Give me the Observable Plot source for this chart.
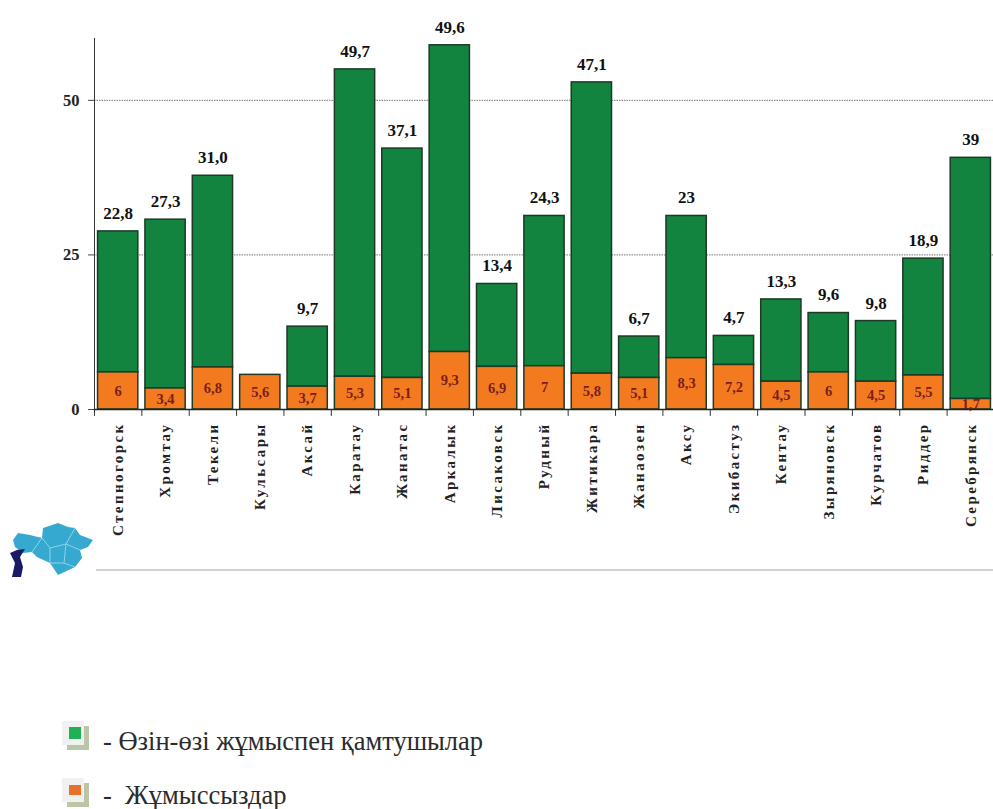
<!DOCTYPE html>
<html>
<head>
<meta charset="utf-8">
<script src="https://cdn.jsdelivr.net/npm/d3@7"></script>
<script src="https://cdn.jsdelivr.net/npm/@observablehq/plot@0.6"></script>
<style>
html,body{margin:0;padding:0;background:#fff;overflow:hidden}
body{position:relative;width:993px;height:809px;font-family:"Liberation Serif",serif}
#chart svg{display:block;background:#fff}
g[aria-label="x-axis tick label"] text{letter-spacing:2.4px}
.rule{position:absolute;left:96px;top:569px;width:897px;height:2px;background:#d2d2d2}
.logo{position:absolute;left:8px;top:518px}
.sw{position:absolute;left:62px;width:22px;height:24px;background:#f1f1f1;box-shadow:5px 5px 0 #bcc5a6}
.sw i{position:absolute;left:7px;width:12px;display:block}
.lt{position:absolute;left:103px;font-family:"Liberation Serif",serif;font-size:26.5px;color:#2b2b2b;white-space:pre;line-height:24px}
</style>
</head>
<body>
<div id="chart"></div>
<div class="rule"></div>
<svg class="logo" width="90" height="60" viewBox="0 0 90 60">
  <path d="M5 22 L10 15 L22 17 L34 20 L35 10 L50 5 L60 9 L67 10 L72 17 L85 22 L80 29 L72 32 L74 40 L67 49 L50 57 L42 45 L29 39 L24 34 L15 35 L7 29 Z" fill="#35a9cf"/>
  <path d="M34 20 L42 30 L58 26 L67 10 M42 30 L42 45 M58 26 L72 32 M58 26 L56 45 L42 45 M24 34 L34 20 M56 45 L67 49" fill="none" stroke="#8fd3e8" stroke-width="1"/>
  <path d="M2 35 L9 32 L17 31 L12 39 L15 49 L13 59 L4 59 L7 45 Z" fill="#1a1a66"/>
</svg>
<div class="sw" style="top:721px"><i style="background:#1eb254;top:6px;height:12px"></i></div>
<div class="lt" style="top:729px">- Өзін-өзі жұмыспен қамтушылар</div>
<div class="sw" style="top:778px"><i style="background:#e8702a;top:7px;height:10px"></i></div>
<div class="lt" style="top:783px">-  Жұмыссыздар</div>
<script>
const cities = ["Степногорск","Хромтау","Текели","Кульсары","Аксай","Каратау","Жанатас","Аркалык","Лисаковск","Рудный","Житикара","Жанаозен","Аксу","Экибастуз","Кентау","Зыряновск","Курчатов","Риддер","Серебрянск"];
const unemployed = [6,3.4,6.8,5.6,3.7,5.3,5.1,9.3,6.9,7,5.8,5.1,8.3,7.2,4.5,6,4.5,5.5,1.7];
const selfEmployed = [22.8,27.3,31.0,0,9.7,49.7,37.1,49.6,13.4,24.3,47.1,6.7,23,4.7,13.3,9.6,9.8,18.9,39];
const unemployedLabels = ["6","3,4","6,8","5,6","3,7","5,3","5,1","9,3","6,9","7","5,8","5,1","8,3","7,2","4,5","6","4,5","5,5","1,7"];
const selfEmployedLabels = ["22,8","27,3","31,0","","9,7","49,7","37,1","49,6","13,4","24,3","47,1","6,7","23","4,7","13,3","9,6","9,8","18,9","39"];
const yTicks = [0,25,50];

const rows = cities.map((c,i)=>({city:c,u:unemployed[i],s:selfEmployed[i],total:unemployed[i]+selfEmployed[i],ul:unemployedLabels[i],sl:selfEmployedLabels[i]}));
const serif = "'Liberation Serif',serif";
const barStroke = "#1c3a26";
const chart = Plot.plot({
  width:993, height:600,
  marginLeft:94, marginRight:-1, marginTop:38, marginBottom:191,
  style:{fontFamily:serif, background:"#fff", color:"#111"},
  x:{domain:cities, paddingInner:0.15, paddingOuter:0.075, round:false, label:null},
  y:{domain:[0,60], label:null},
  marks:[
    Plot.ruleY([25,50],{stroke:"#777",strokeWidth:1,strokeDasharray:"1.5 1"}),
    Plot.barY(rows.filter(d=>d.s>0),{x:"city",y1:"u",y2:"total",fill:"#12843f",stroke:barStroke,strokeWidth:1.5}),
    Plot.barY(rows,{x:"city",y1:0,y2:"u",fill:"#f47a20",stroke:barStroke,strokeWidth:1.5}),
    Plot.text(rows,{x:"city",y:d=>d.u/2,text:"ul",fill:"#7a1f1f",fontWeight:"bold",fontSize:14.5}),
    Plot.text(rows,{x:"city",y:"total",text:"sl",dy:-18,fill:"#111",fontWeight:"bold",fontSize:17}),
    Plot.frame({anchor:"left",stroke:"#333",strokeWidth:1}),
    Plot.frame({anchor:"bottom",stroke:"#222",strokeWidth:1.5}),
    Plot.vector(cities,{x:d=>d,y:()=>0,length:6,rotate:180,anchor:"start",dx:-23.7,stroke:"#333",strokeWidth:1,shape:{draw(c,l){c.moveTo(0,0);c.lineTo(0,-l);}}}),
    Plot.axisY({ticks:yTicks,tickSize:6,tickPadding:9,fontWeight:"bold",fontSize:16.5,stroke:"#444",fill:"#222"}),
    Plot.axisX({tickSize:0,tickRotate:-90,tickPadding:13,fontWeight:"bold",fontSize:15,fill:"#222"})
  ]
});
document.getElementById("chart").appendChild(chart);
</script>
</body>
</html>
